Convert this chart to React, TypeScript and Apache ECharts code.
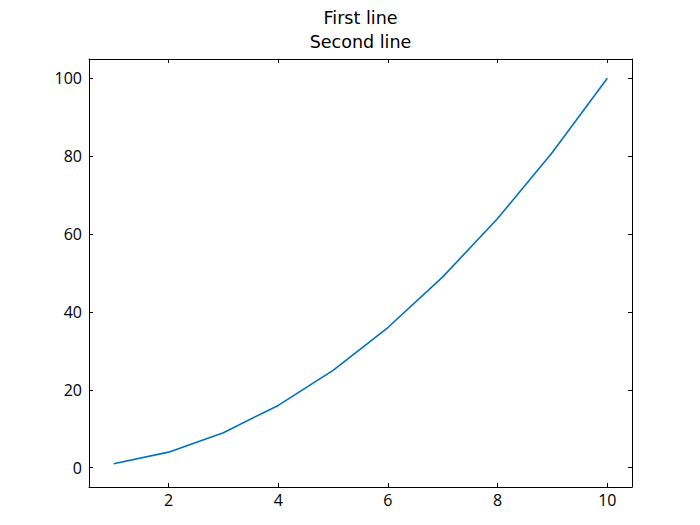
import React, { useEffect, useRef } from "react";
import * as echarts from "echarts";

const xValues = [1, 2, 3, 4, 5, 6, 7, 8, 9, 10];
const yValues = [1, 4, 9, 16, 25, 36, 49, 64, 81, 100];
const xTicks = [2, 4, 6, 8, 10];
const yTicks = [0, 20, 40, 60, 80, 100];
const titleLines = ["First line", "Second line"];

const FONT = "Open Sans";
const TITLE_FONT = "DejaVu Sans";

export default function App() {
  const ref = useRef<HTMLDivElement>(null);
  useEffect(() => {
    if (!ref.current) return;
    const chart = echarts.init(ref.current, null, { renderer: "svg" });
    const tickStyle = { show: true, inside: true, length: 4, lineStyle: { color: "#000", width: 1 } };
    const lineStyle = { show: true, onZero: false, lineStyle: { color: "#000", width: 1 } };
    const baseX = {
      type: "value" as const,
      min: 0.55,
      max: 10.45,
      splitLine: { show: false },
      axisLine: lineStyle,
    };
    const baseY = {
      type: "value" as const,
      min: -4.95,
      max: 104.95,
      splitLine: { show: false },
      axisLine: lineStyle,
    };
    chart.setOption({
      animation: false,
      backgroundColor: "#fff",
      title: titleLines.map((t, i) => ({
        text: t,
        left: 360.5,
        top: 8 + i * 24,
        padding: 0,
        textAlign: "center",
        textStyle: { fontFamily: TITLE_FONT, fontSize: 17.5, fontWeight: "normal", color: "#000", lineHeight: 20 },
      })),
      grid: { left: 89, right: 68, top: 59, bottom: 38 },
      xAxis: [
        {
          ...baseX,
          position: "bottom",
          axisTick: { ...tickStyle, customValues: xTicks },
          axisLabel: { customValues: xTicks, color: "#000", fontFamily: FONT, fontSize: 16, margin: 5 },
        },
        {
          ...baseX,
          position: "top",
          axisTick: { ...tickStyle, customValues: xTicks },
          axisLabel: { show: false },
        },
      ],
      yAxis: [
        {
          ...baseY,
          position: "left",
          axisTick: { ...tickStyle, customValues: yTicks },
          axisLabel: { customValues: yTicks, color: "#000", fontFamily: FONT, fontSize: 16, margin: 7 },
        },
        {
          ...baseY,
          position: "right",
          axisTick: { ...tickStyle, customValues: yTicks },
          axisLabel: { show: false },
        },
      ],
      series: [
        {
          type: "line",
          xAxisIndex: 0,
          yAxisIndex: 0,
          data: xValues.map((x, i) => [x, yValues[i]]),
          showSymbol: false,
          lineStyle: { color: "#0072BD", width: 1.6 },
          itemStyle: { color: "#0072BD" },
        },
      ],
    });
    return () => chart.dispose();
  }, []);
  return <div ref={ref} style={{ position: "fixed", left: 0, top: 0, width: 700, height: 525 }} />;
}
